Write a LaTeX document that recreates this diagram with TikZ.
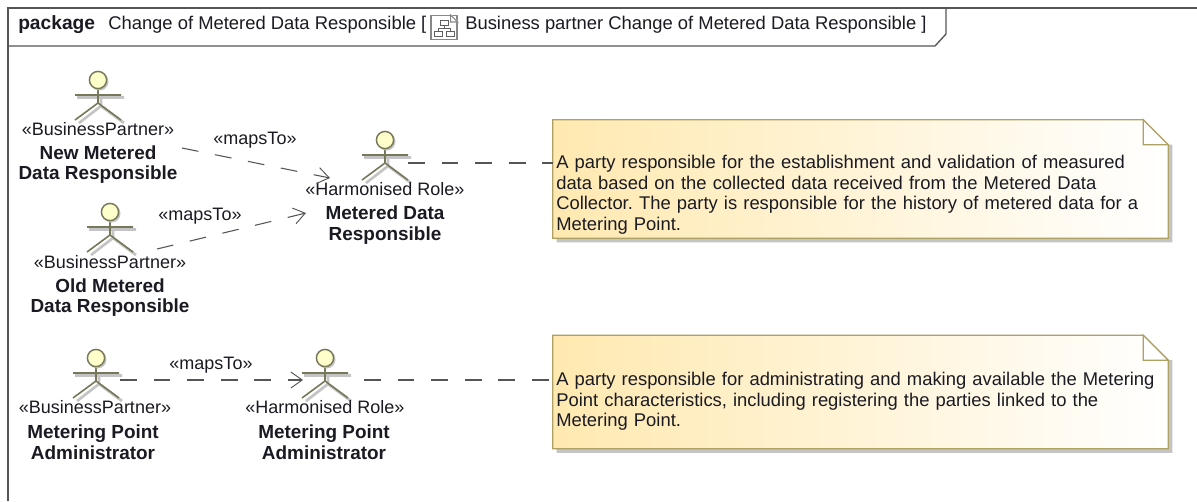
\documentclass[tikz,border=0pt]{standalone}
\usepackage{fontspec}
\setmainfont{Liberation Sans}
\usetikzlibrary{arrows.meta,calc}
\definecolor{ink}{HTML}{1A1A22}
\definecolor{frameline}{HTML}{555555}
\definecolor{actorline}{HTML}{77775A}
\definecolor{actorhead}{HTML}{FFFFCC}
\definecolor{shadowc}{HTML}{C4C4C4}
\definecolor{noteline}{HTML}{AFA064}
\definecolor{noteleft}{HTML}{FFE9B0}
\definecolor{notemid}{HTML}{FFF5D8}
\definecolor{dashline}{HTML}{555555}
\tikzset{
  txt/.style={font=\fontsize{13.8}{15.5}\selectfont\frenchspacing,text=ink,inner sep=0pt},
  boldtxt/.style={txt,font=\fontsize{14.2}{15.5}\selectfont\bfseries,align=center},
  stereo/.style={txt,font=\fontsize{13.5}{15.5}\selectfont},
  notetext/.style={txt,align=left,anchor=north west},
  dep/.style={draw=dashline,line width=0.8pt,dash pattern=on 12.6pt off 12.6pt},
  deparrow/.style={dep,-{Straight Barb[length=8.5pt,width=12pt,line width=0.7pt]}},
  actorbox/.style={inner sep=0pt,minimum width=35pt,minimum height=37pt}
}
\newcommand{\actorfig}[3]{%
  \node[actorbox] (#1) at (#2,#3) {};
  \begin{scope}[shift={(#2,#3)}]
    \draw[shadowc,line width=2pt] (-21,-2.5) -- (26,-2.5) (3,-2) -- (3,6) (3,6) -- (-19,23) (3,6) -- (26,23);
    \draw[actorline,line width=1.2pt] (-23,-5) -- (23,-5) (0,-11) -- (0,3) (0,3) -- (-23,20) (0,3) -- (23,20);
    \fill[shadowc] (1.5,-18.5) circle (9);
    \draw[actorline,fill=actorhead,line width=1.1pt] (0,-20) circle (8.6);
  \end{scope}}
\newcommand{\notefig}[3]{%
  \node[inner sep=0pt,minimum width=461.25pt,minimum height=#3*0.75pt] (#1) at (860.5,#2) {};
  \fill[shadowc] ($(#1.north east)+(0,25)$) -- ++(4,0) -- ($(#1.south east)+(4,4)$) -- ($(#1.south west)+(4,4)$) -- ($(#1.south west)+(4,0)$) -- (#1.south east) -- cycle;
  \shade[left color=noteleft,middle color=notemid,right color=white,draw=noteline,line width=1pt]
    (#1.north west) -- ($(#1.north east)+(-25,0)$) -- ($(#1.north east)+(0,25)$) -- (#1.south east) -- (#1.south west) -- cycle;
  \draw[noteline,line width=1pt,fill=white] ($(#1.north east)+(-25,0)$) -- ($(#1.north east)+(-25,25)$) -- ($(#1.north east)+(0,25)$) -- cycle;
  }
\begin{document}
\begin{tikzpicture}[x=0.75pt,y=-0.75pt]
\useasboundingbox (0,0) rectangle (1197,501);
\fill[white] (0,0) rectangle (1197,501);
% frame
\coordinate (frameTR) at (1197,8);
\coordinate (frameTL) at (8,8);
\coordinate (frameBL) at (8,501);
\draw[frameline,line width=1pt] (frameTR) -- (frameTL) -- (frameBL);
\draw[frameline,line width=1pt] (8,46) -- (935,46) -- (946,34) -- (946,8);
% title
\node[txt,anchor=base west,font=\fontsize{14.4}{15}\selectfont\bfseries] (tpkg) at (18,29) {package};
\node[txt,anchor=base west] (tname) at (108,29) {Change of Metered Data Responsible [};
\node[draw=frameline!70,line width=0.8pt,minimum width=19.5pt,minimum height=18pt,inner sep=0pt] (ticon) at (444,27.5) {};
\draw[white,line width=1.2pt] ($(ticon.north east)+(-7,0)$) -- ($(ticon.north east)+(0,7)$);
\draw[frameline!70,line width=0.8pt] ($(ticon.north east)+(-7,0)$) -- ($(ticon.north east)+(-7,7)$) -- ($(ticon.north east)+(0,7)$) -- cycle;
\draw[ink!70,line width=0.7pt] (440,20) rectangle (448,25) (444,25) -- (444,28) (438,28) -- (450,28) (438,28) -- (438,31) (450,28) -- (450,31) (434,31) rectangle (442,36) (446,31) rectangle (454,36);
\node[txt,anchor=base west] (tdiag) at (465,29) {Business partner Change of Metered Data Responsible ]};
% notes
\notefig{note1}{179}{118}
\notefig{note2}{392}{113}
\node[notetext,text width=600pt] (note1t) at (556,155) {A party responsible for the establishment and validation of measured\\data based on the collected data received from the Metered Data\\Collector. The party is responsible for the history of metered data for a\\Metering Point.};
\node[notetext,text width=600pt] (note2t) at (556,372) {A party responsible for administrating and making available the Metering\\Point characteristics, including registering the parties linked to the\\Metering Point.};
% actors
\actorfig{a1}{98}{100}
\actorfig{a2}{110}{232}
\actorfig{a3}{385}{160}
\actorfig{a4}{96}{378}
\actorfig{a5}{325}{378}
\node[stereo] (s1) at (98,129) {«BusinessPartner»};
\node[boldtxt] (n1) at (98,164.5) {New Metered\\Data Responsible};
\node[stereo] (s2) at (110,262) {«BusinessPartner»};
\node[boldtxt] (n2) at (110,297.5) {Old Metered\\Data Responsible};
\node[stereo] (s3) at (385,189) {«Harmonised Role»};
\node[boldtxt] (n3) at (385,225) {Metered Data\\Responsible};
\node[stereo] (s4) at (95,407) {«BusinessPartner»};
\node[boldtxt] (n4) at (93,442) {Metering Point\\Administrator};
\node[stereo] (s5) at (325,407) {«Harmonised Role»};
\node[boldtxt] (n5) at (324,442) {Metering Point\\Administrator};
% connectors
\draw[deparrow] ([shift={(84,48)}]a1.center) -- ([shift={(-55,18)}]a3.center);
\draw[deparrow] ([shift={(47,17)}]a2.center) -- ([shift={(-79,53)}]a3.center);
\draw[deparrow] ([shift={(24,2)}]a4.center) -- ([shift={(-22,2)}]a5.center);
\draw[dep] ([shift={(23,3)}]a3.center) -- (note1.west |- {$(a3.center)+(0,3)$});
\draw[dep] ([shift={(39,2)}]a5.center) -- (note2.west |- {$(a5.center)+(0,2)$});
% labels
\node[stereo] (l1) at (255,140) {«mapsTo»};
\node[stereo] (l2) at (200,216) {«mapsTo»};
\node[stereo] (l3) at (211,365) {«mapsTo»};
\end{tikzpicture}
\end{document}
